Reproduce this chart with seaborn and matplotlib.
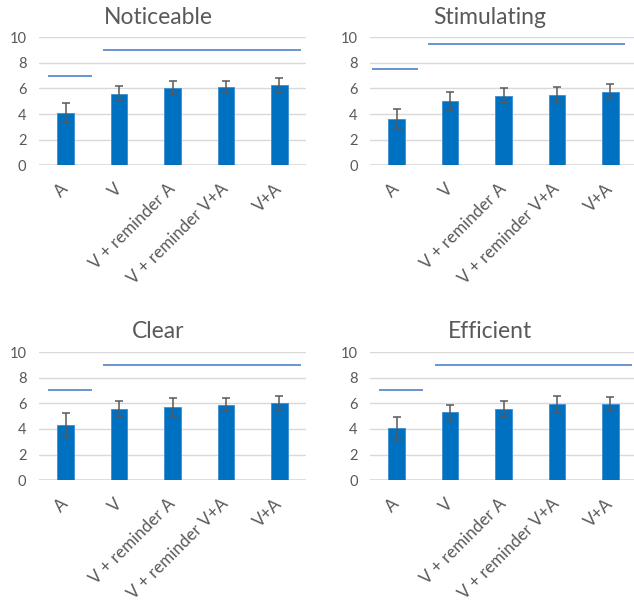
import matplotlib
matplotlib.use("Agg")
import matplotlib.pyplot as plt
import pandas as pd
import seaborn as sns

conditions = ["A", "V", "V + reminder A", "V + reminder V+A", "V+A"]
titles = ["Noticeable", "Stimulating", "Clear", "Efficient"]

noticeable_mean = [4.1, 5.6, 6.05, 6.1, 6.3]
noticeable_err = [0.8, 0.6, 0.55, 0.45, 0.55]
stimulating_mean = [3.65, 5.0, 5.45, 5.5, 5.75]
stimulating_err = [0.75, 0.72, 0.55, 0.62, 0.6]
clear_mean = [4.3, 5.55, 5.72, 5.9, 6.05]
clear_err = [0.95, 0.6, 0.7, 0.52, 0.55]
efficient_mean = [4.05, 5.3, 5.55, 5.95, 5.95]
efficient_err = [0.92, 0.6, 0.6, 0.63, 0.52]

# grouping lines drawn above the bars: (level, from, to) in category units
noticeable_groups = [(7.0, -0.34, 0.5), (9.0, 0.7, 4.4)]
stimulating_groups = [(7.5, -0.46, 0.4), (9.5, 0.59, 4.28)]
clear_groups = [(7.0, -0.34, 0.5), (9.0, 0.7, 4.4)]
efficient_groups = [(7.0, -0.34, 0.5), (9.0, 0.72, 4.4)]

means = [noticeable_mean, stimulating_mean, clear_mean, efficient_mean]
errs = [noticeable_err, stimulating_err, clear_err, efficient_err]
groups = [noticeable_groups, stimulating_groups, clear_groups, efficient_groups]

sns.set_theme(style="white")
plt.rcParams['font.family'] = ['Lato', 'DejaVu Sans']

BAR = "#0070C0"
TEXT = "#595959"
GRID = "#D9D9D9"
LINE = "#4F81C7"

W, H = 634, 602
fig = plt.figure(figsize=(W / 100, H / 100), dpi=100)

# axes boxes in pixels: left, top, width, height
boxes = [(39, 37.3, 267, 128), (370, 37.3, 267, 128),
         (39, 352, 267, 128.3), (370, 352, 267, 128.3)]
title_pos = [(158, 17), (490, 17), (158, 332), (490, 332)]

for i in range(4):
    l, t, w, h = boxes[i]
    ax = fig.add_axes([l / W, 1 - (t + h) / H, w / W, h / H])
    df = pd.DataFrame({"condition": conditions, "score": means[i]})
    sns.barplot(data=df, x="condition", y="score", color=BAR, width=0.31,
                saturation=1, errorbar=None, edgecolor="#3C8ED0", linewidth=0.6, ax=ax, zorder=3)
    ax.errorbar(range(len(conditions)), means[i], yerr=errs[i], fmt="none",
                ecolor=TEXT, elinewidth=1.1, capsize=2.8, capthick=1.1, zorder=4)
    for level, x0, x1 in groups[i]:
        ax.plot([x0, x1], [level, level], color=LINE, lw=1.2, zorder=5,
                solid_capstyle="butt")
    ax.set_xlim(-0.5, len(conditions) - 0.5)
    ax.set_ylim(0, 10)
    ax.set_yticks([0, 2, 4, 6, 8, 10])
    ax.yaxis.grid(True, color=GRID, lw=1)
    ax.set_axisbelow(True)
    for s in ax.spines.values():
        s.set_visible(False)
    ax.axhline(0, color=GRID, lw=1.2, zorder=2)
    ax.set_xlabel("")
    ax.set_ylabel("")
    ax.set_xticks(range(len(conditions)))
    ax.set_xticklabels(conditions, rotation=45, ha="right", va="center",
                       rotation_mode="anchor")
    ax.tick_params(axis="x", length=0, pad=15, labelsize=12.2, labelcolor=TEXT)
    ax.tick_params(axis="y", length=0, pad=9, labelsize=10.5, labelcolor=TEXT)
    fig.text(title_pos[i][0] / W, 1 - title_pos[i][1] / H, titles[i],
             ha="center", va="center", fontsize=16.5, color=TEXT)

fig.savefig("out.png", dpi=100)
